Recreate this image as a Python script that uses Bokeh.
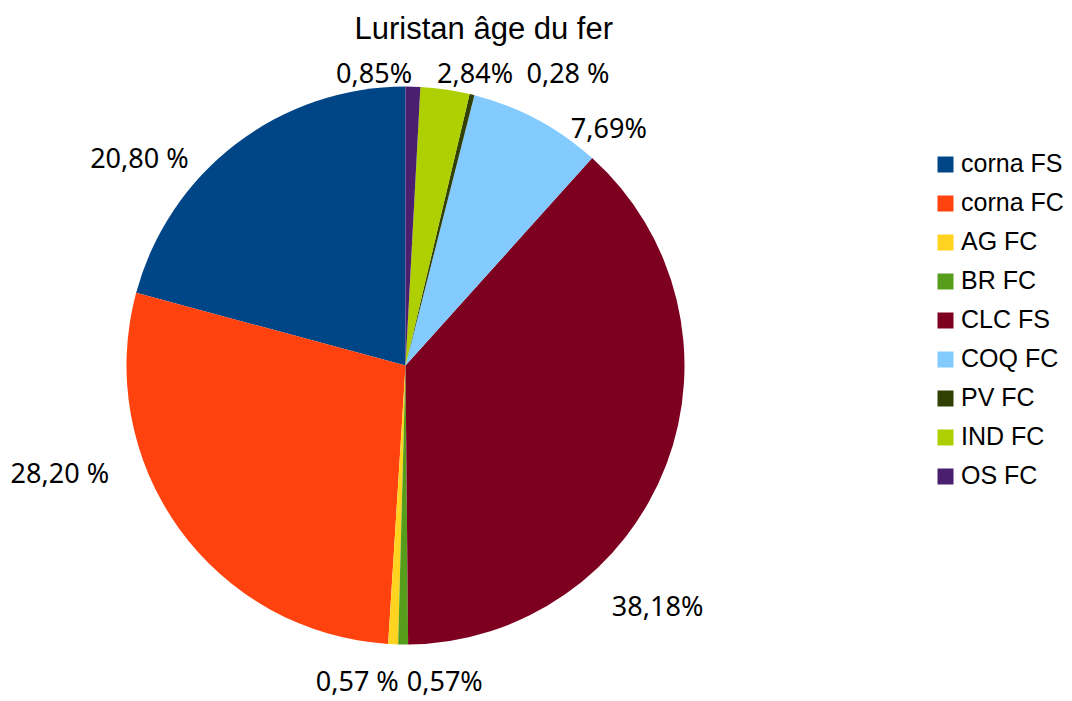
import numpy as np
from bokeh.plotting import figure
from bokeh.models import Range1d, Legend, LegendItem, ColumnDataSource
from bokeh.core.properties import value
from bokeh.embed import file_html
from bokeh.resources import INLINE

# ---- data ----
categories = ["corna FS", "corna FC", "AG FC", "BR FC", "CLC FS",
              "COQ FC", "PV FC", "IND FC", "OS FC"]
percent = [20.80, 28.20, 0.57, 0.57, 38.18, 7.69, 0.28, 2.84, 0.85]
labels = ["20,80 %", "28,20 %", "0,57 %", "0,57%", "38,18%",
          "7,69%", "0,28 %", "2,84%", "0,85%"]
colors = ["#004586", "#ff420e", "#ffd320", "#579d1c", "#7e0021",
          "#83caff", "#314004", "#aecf00", "#4b1f6f"]

# ---- layout / style ----
W, H = 1068, 700
TOP = 50            # title band
S = 279.0           # pixels per data unit (pie radius = 1)
CX, CY = 405.0, 365.0   # pie centre in canvas pixels
LABEL_R = 1.15
# pixel nudges for the data labels (screen x right, y down)
label_nudge_x = [-71, -85, -34, 42, -48, 52, 86, 24, -40]
label_nudge_y = [47, -80, -6, -6, 126, 45, 19, 25, 28]

vals = np.array(percent, dtype=float)
frac = vals / vals.sum()
cum = np.concatenate([[0.0], np.cumsum(frac)[:-1]])
start = np.pi / 2 + 2 * np.pi * cum
end = start + 2 * np.pi * frac
mid = (start + end) / 2

src = ColumnDataSource(dict(
    category=categories, start=start, end=end, color=colors,
))
lab = ColumnDataSource(dict(
    x=LABEL_R * np.cos(mid), y=LABEL_R * np.sin(mid), text=labels,
    dx=label_nudge_x, dy=label_nudge_y,
))

p = figure(width=W, height=H, output_backend="svg", toolbar_location=None,
           x_range=Range1d(-CX / S, (W - CX) / S),
           y_range=Range1d((CY - H) / S, (CY - TOP) / S),
           min_border=0, min_border_top=TOP,
           x_axis_location=None, y_axis_location=None,
           title="Luristan âge du fer")
p.grid.visible = False
p.outline_line_color = None
p.background_fill_color = "white"
p.border_fill_color = "white"

p.title.text_font = "Liberation Sans"
p.title.text_font_size = "31px"
p.title.text_font_style = "normal"
p.title.text_color = "black"
p.title.align = "left"
p.title.offset = 354

w = p.wedge(x=0, y=0, radius=1.0, start_angle="start", end_angle="end",
            fill_color="color", line_color=None, source=src)

p.text(x="x", y="y", text="text", x_offset="dx", y_offset="dy", source=lab,
       text_font=value("Noto Sans"), text_font_size="27px",
       text_align="center", text_baseline="middle", text_color="black")

items = [LegendItem(label=c, renderers=[w], index=i) for i, c in enumerate(categories)]
legend = Legend(items=items, location=(935, 210), orientation="vertical",
                glyph_width=20, glyph_height=20, label_standoff=6,
                label_text_font="Liberation Sans", label_text_font_size="25px",
                label_text_color="black", spacing=10, padding=0, margin=0,
                border_line_color=None, background_fill_alpha=0)
p.add_layout(legend)

open("out.html", "w").write(file_html(p, INLINE))
